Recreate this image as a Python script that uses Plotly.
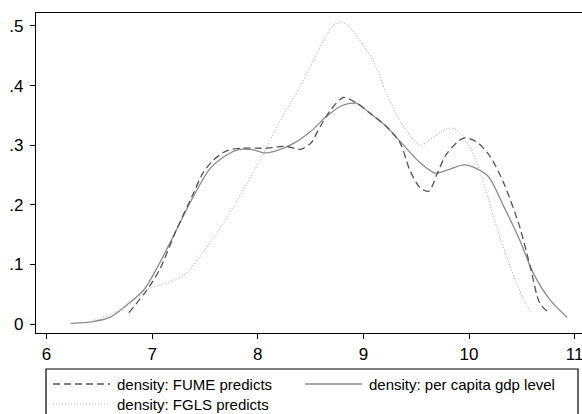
import plotly.graph_objects as go

# --- data ---
gdp_x = [6.23, 6.44, 6.60, 6.76, 6.92, 7.07, 7.23, 7.39, 7.55, 7.71, 7.83, 7.96, 8.07, 8.18,
         8.34, 8.50, 8.65, 8.78, 8.87, 8.94, 9.06, 9.22, 9.35, 9.54, 9.68, 9.79, 9.96, 10.17,
         10.33, 10.48, 10.61, 10.77, 10.93]
gdp_y = [0.001, 0.004, 0.011, 0.032, 0.057, 0.102, 0.158, 0.214, 0.261, 0.284, 0.293, 0.292,
         0.287, 0.291, 0.303, 0.323, 0.348, 0.365, 0.370, 0.370, 0.354, 0.331, 0.306, 0.270,
         0.253, 0.258, 0.267, 0.250, 0.197, 0.141, 0.085, 0.040, 0.011]

fume_x = [6.78, 6.95, 7.07, 7.23, 7.39, 7.48, 7.58, 7.71, 7.86, 8.09, 8.27, 8.40, 8.50, 8.59,
          8.69, 8.81, 8.94, 9.06, 9.22, 9.35, 9.44, 9.54, 9.62, 9.70, 9.79, 9.95, 10.07, 10.20,
          10.33, 10.48, 10.58, 10.67, 10.75]
fume_y = [0.019, 0.057, 0.091, 0.158, 0.219, 0.253, 0.275, 0.291, 0.295, 0.295, 0.298, 0.293,
          0.303, 0.331, 0.359, 0.380, 0.370, 0.354, 0.331, 0.303, 0.258, 0.228, 0.223, 0.253,
          0.286, 0.312, 0.306, 0.281, 0.236, 0.163, 0.096, 0.035, 0.020]

fgls_x = [6.40, 6.73, 6.95, 7.07, 7.30, 7.45, 7.61, 7.77, 7.90, 8.02, 8.15, 8.27, 8.40, 8.53,
          8.62, 8.70, 8.78, 8.86, 8.94, 9.02, 9.09, 9.22, 9.38, 9.54, 9.63, 9.79, 9.88, 10.01,
          10.14, 10.26, 10.39, 10.52, 10.58]
fgls_y = [0.003, 0.026, 0.058, 0.065, 0.082, 0.113, 0.152, 0.197, 0.236, 0.275, 0.320, 0.359,
          0.398, 0.443, 0.475, 0.498, 0.507, 0.500, 0.482, 0.462, 0.443, 0.387, 0.331, 0.300,
          0.309, 0.328, 0.326, 0.297, 0.236, 0.163, 0.096, 0.040, 0.021]

x_ticks = [6, 7, 8, 9, 10, 11]
y_ticks = [0, 0.1, 0.2, 0.3, 0.4, 0.5]
y_tick_labels = ["0", ".1", ".2", ".3", ".4", ".5"]

names = ["density: FUME predicts", "density: per capita gdp level", "density: FGLS predicts"]

# --- styles ---
c_fume, c_gdp, c_fgls = "#555555", "#8c8c8c", "#b4b4b4"
font = "Liberation Sans, Arial, Helvetica, sans-serif"

fig = go.Figure()
fig.add_trace(go.Scatter(x=gdp_x, y=gdp_y, mode="lines", name=names[1],
                         line=dict(color=c_gdp, width=1.3, shape="spline", smoothing=0.8)))
fig.add_trace(go.Scatter(x=fgls_x, y=fgls_y, mode="lines", name=names[2],
                         line=dict(color=c_fgls, width=1.1, dash="1px,2px", shape="spline", smoothing=0.8)))
fig.add_trace(go.Scatter(x=fume_x, y=fume_y, mode="lines", name=names[0],
                         line=dict(color=c_fume, width=1.3, dash="7px,4px", shape="spline", smoothing=0.8)))

W, H = 582, 414
L, R, T, B = 36, 0, 13, 81
pw, ph = W - L - R, H - T - B

def px(xp):
    return (xp - L) / pw

def py(yp):
    return (H - B - yp) / ph

shapes = [dict(type="rect", xref="paper", yref="paper", x0=px(46), x1=px(578), y0=py(440), y1=py(369),
               line=dict(color="black", width=1.2), fillcolor="white")]
annotations = []
legend_items = [
    (names[0], c_fume, "7px,4px", 1.3, 53, 110, 384),
    (names[1], c_gdp, "solid", 1.3, 305, 362, 384),
    (names[2], c_fgls, "1px,2px", 1.1, 53, 110, 404),
]
for name, col, dash, w, x0, x1, yy in legend_items:
    shapes.append(dict(type="line", xref="paper", yref="paper", x0=px(x0), x1=px(x1), y0=py(yy), y1=py(yy),
                       line=dict(color=col, width=w, dash=dash)))
    annotations.append(dict(text=name, xref="paper", yref="paper", x=px(x1 + 5), y=py(yy),
                            xanchor="left", yanchor="middle", showarrow=False,
                            font=dict(family=font, size=15, color="black")))

fig.update_layout(
    width=W, height=H, margin=dict(l=L, r=R, t=T, b=B),
    plot_bgcolor="white", paper_bgcolor="white", showlegend=False,
    font=dict(family=font, color="black"),
    shapes=shapes, annotations=annotations,
    xaxis=dict(range=[5.90, 11.07], tickvals=x_ticks, ticks="outside", ticklen=5, tickwidth=1.2,
               tickcolor="black", showline=True, linecolor="black", linewidth=1.4, mirror=True,
               showgrid=False, zeroline=False, ticklabeloverflow="allow",
               tickfont=dict(size=17, family=font, color="black")),
    yaxis=dict(range=[-0.0151, 0.5218], tickvals=y_ticks, ticktext=y_tick_labels, ticks="outside",
               ticklen=5, tickwidth=1.2, tickcolor="black", showline=True, linecolor="black",
               linewidth=1.4, mirror=False, showgrid=False, zeroline=False, ticklabelstandoff=3,
               ticklabeloverflow="allow",
               tickfont=dict(size=17, family=font, color="black")),
)

fig.write_html("out.html")
